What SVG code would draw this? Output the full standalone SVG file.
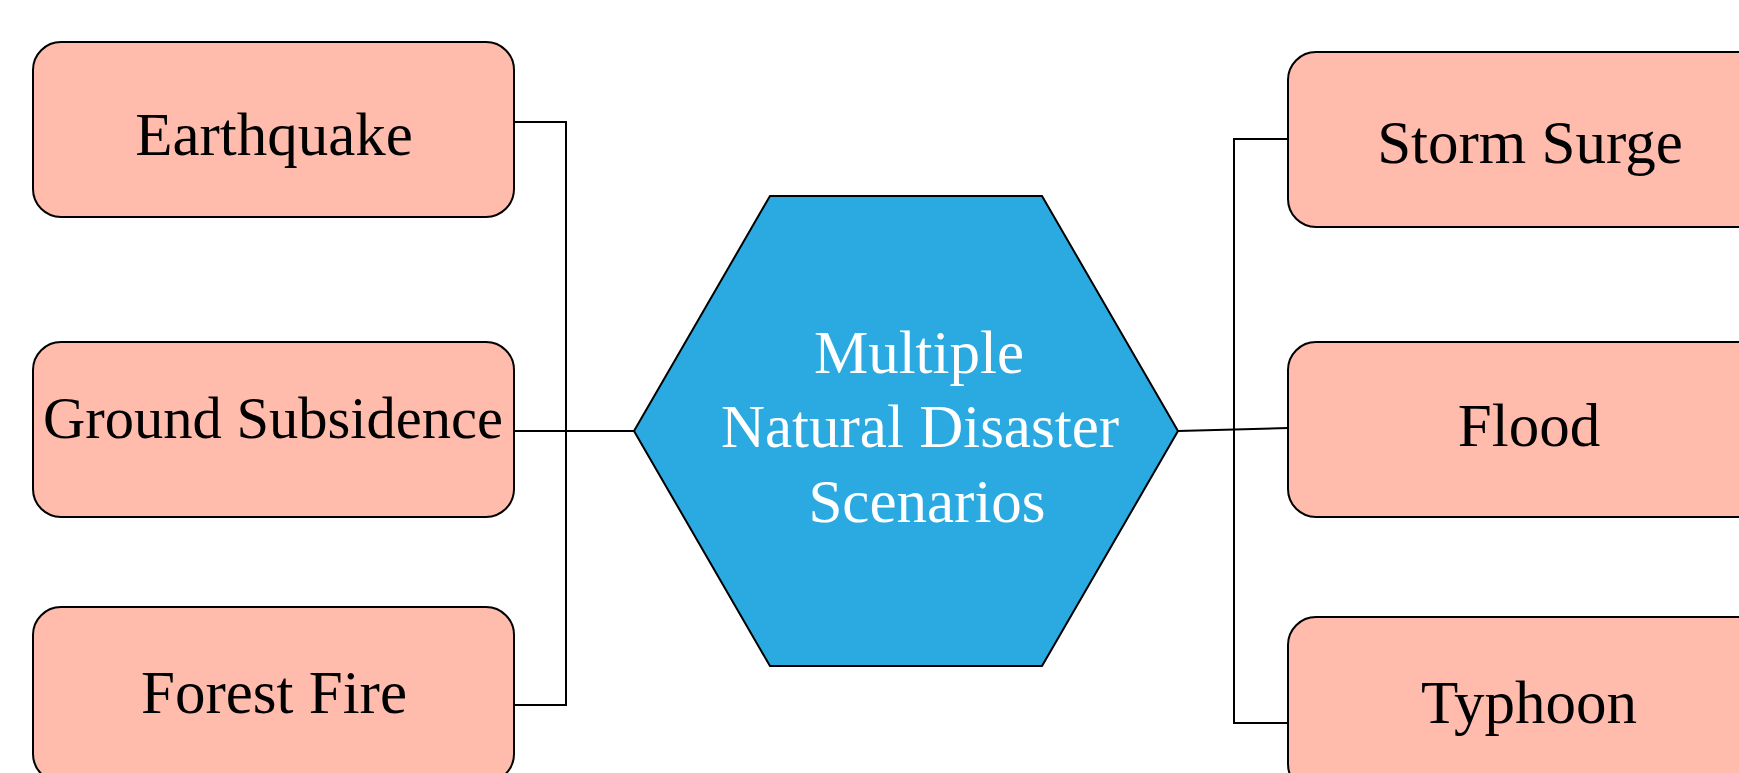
<svg xmlns="http://www.w3.org/2000/svg" width="1739" height="773" viewBox="0 0 1739 773">
  <style>
    .box { fill: #FFBCAD; stroke: #000; stroke-width: 2; }
    .hub { fill: #2AAAE1; stroke: #000; stroke-width: 2; }
    .lbl { font-family: "Liberation Serif", "Times New Roman", serif; font-size: 61px; fill: #000; text-anchor: middle; }
    .hubtxt { font-family: "Liberation Serif", "Times New Roman", serif; font-size: 61px; fill: #fff; text-anchor: middle; }
    .wire { fill: none; stroke: #000; stroke-width: 2; }
  </style>
  <rect width="1739" height="773" fill="#fff"/>

  <!-- connectors -->
  <g id="connectors">
    <polyline class="wire" points="514,122 566,122 566,705 514,705"/>
    <line class="wire" x1="514" y1="431" x2="634" y2="431"/>
    <polyline class="wire" points="1288,139 1234,139 1234,723 1288,723"/>
    <line class="wire" x1="1178" y1="431" x2="1288" y2="428"/>
  </g>

  <!-- central hexagon -->
  <g id="hub">
    <polygon class="hub" points="770,196 1042,196 1178,431 1042,666 770,666 634,431"/>
    <text class="hubtxt" x="919" y="373">Multiple</text>
    <text class="hubtxt" x="920" y="447">Natural Disaster</text>
    <text class="hubtxt" x="927" y="522">Scenarios</text>
  </g>

  <!-- left column -->
  <g id="earthquake">
    <rect class="box" x="33" y="42" width="481" height="175" rx="28" ry="28"/>
    <text class="lbl" x="274" y="155">Earthquake</text>
  </g>
  <g id="ground-subsidence">
    <rect class="box" x="33" y="342" width="481" height="175" rx="28" ry="28"/>
    <text class="lbl" x="273" y="438" style="font-size:58.5px">Ground Subsidence</text>
  </g>
  <g id="forest-fire">
    <rect class="box" x="33" y="607" width="481" height="175" rx="28" ry="28"/>
    <text class="lbl" x="274" y="713">Forest Fire</text>
  </g>

  <!-- right column -->
  <g id="storm-surge">
    <rect class="box" x="1288" y="52" width="481" height="175" rx="28" ry="28"/>
    <text class="lbl" x="1530" y="163">Storm Surge</text>
  </g>
  <g id="flood">
    <rect class="box" x="1288" y="342" width="481" height="175" rx="28" ry="28"/>
    <text class="lbl" x="1529" y="446">Flood</text>
  </g>
  <g id="typhoon">
    <rect class="box" x="1288" y="617" width="481" height="175" rx="28" ry="28"/>
    <text class="lbl" x="1529" y="723">Typhoon</text>
  </g>
</svg>
